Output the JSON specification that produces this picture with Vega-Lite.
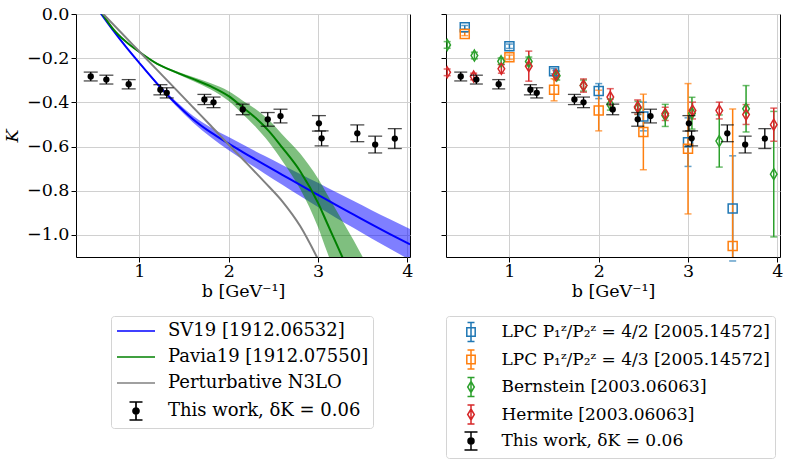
{
  "$schema": "https://vega.github.io/schema/vega-lite/v6.json",
  "background": "white",
  "padding": {"left": 3, "top": 4, "right": 2, "bottom": 2},
  "datasets": {
    "curves": [
      {"series": "SV19 [1912.06532]", "b": 0.56, "K": 0.007, "lo": 0.006, "hi": 0.008},
      {"series": "SV19 [1912.06532]", "b": 0.7, "K": -0.071, "lo": -0.072, "hi": -0.07},
      {"series": "SV19 [1912.06532]", "b": 0.85, "K": -0.149, "lo": -0.151, "hi": -0.147},
      {"series": "SV19 [1912.06532]", "b": 1.0, "K": -0.222, "lo": -0.225, "hi": -0.219},
      {"series": "SV19 [1912.06532]", "b": 1.2, "K": -0.316, "lo": -0.322, "hi": -0.31},
      {"series": "SV19 [1912.06532]", "b": 1.4, "K": -0.402, "lo": -0.412, "hi": -0.392},
      {"series": "SV19 [1912.06532]", "b": 1.6, "K": -0.476, "lo": -0.491, "hi": -0.461},
      {"series": "SV19 [1912.06532]", "b": 1.8, "K": -0.536, "lo": -0.558, "hi": -0.514},
      {"series": "SV19 [1912.06532]", "b": 2.0, "K": -0.587, "lo": -0.617, "hi": -0.557},
      {"series": "SV19 [1912.06532]", "b": 2.2, "K": -0.635, "lo": -0.67, "hi": -0.6},
      {"series": "SV19 [1912.06532]", "b": 2.4, "K": -0.682, "lo": -0.722, "hi": -0.642},
      {"series": "SV19 [1912.06532]", "b": 2.6, "K": -0.728, "lo": -0.773, "hi": -0.683},
      {"series": "SV19 [1912.06532]", "b": 2.8, "K": -0.774, "lo": -0.824, "hi": -0.724},
      {"series": "SV19 [1912.06532]", "b": 3.0, "K": -0.819, "lo": -0.874, "hi": -0.764},
      {"series": "SV19 [1912.06532]", "b": 3.2, "K": -0.864, "lo": -0.922, "hi": -0.806},
      {"series": "SV19 [1912.06532]", "b": 3.4, "K": -0.908, "lo": -0.969, "hi": -0.847},
      {"series": "SV19 [1912.06532]", "b": 3.6, "K": -0.952, "lo": -1.016, "hi": -0.888},
      {"series": "SV19 [1912.06532]", "b": 3.8, "K": -0.995, "lo": -1.062, "hi": -0.928},
      {"series": "SV19 [1912.06532]", "b": 4.03, "K": -1.043, "lo": -1.113, "hi": -0.973},
      {"series": "Pavia19 [1912.07550]", "b": 0.57, "K": 0.01, "lo": 0.01, "hi": 0.01},
      {"series": "Pavia19 [1912.07550]", "b": 0.7, "K": -0.065, "lo": -0.066, "hi": -0.064},
      {"series": "Pavia19 [1912.07550]", "b": 0.85, "K": -0.126, "lo": -0.128, "hi": -0.124},
      {"series": "Pavia19 [1912.07550]", "b": 1.0, "K": -0.172, "lo": -0.175, "hi": -0.169},
      {"series": "Pavia19 [1912.07550]", "b": 1.2, "K": -0.226, "lo": -0.23, "hi": -0.222},
      {"series": "Pavia19 [1912.07550]", "b": 1.4, "K": -0.262, "lo": -0.267, "hi": -0.257},
      {"series": "Pavia19 [1912.07550]", "b": 1.6, "K": -0.294, "lo": -0.303, "hi": -0.285},
      {"series": "Pavia19 [1912.07550]", "b": 1.8, "K": -0.328, "lo": -0.342, "hi": -0.314},
      {"series": "Pavia19 [1912.07550]", "b": 2.0, "K": -0.372, "lo": -0.394, "hi": -0.35},
      {"series": "Pavia19 [1912.07550]", "b": 2.15, "K": -0.42, "lo": -0.45, "hi": -0.39},
      {"series": "Pavia19 [1912.07550]", "b": 2.3, "K": -0.47, "lo": -0.51, "hi": -0.43},
      {"series": "Pavia19 [1912.07550]", "b": 2.45, "K": -0.53, "lo": -0.58, "hi": -0.48},
      {"series": "Pavia19 [1912.07550]", "b": 2.6, "K": -0.605, "lo": -0.665, "hi": -0.545},
      {"series": "Pavia19 [1912.07550]", "b": 2.8, "K": -0.712, "lo": -0.792, "hi": -0.632},
      {"series": "Pavia19 [1912.07550]", "b": 3.0, "K": -0.855, "lo": -0.965, "hi": -0.745},
      {"series": "Pavia19 [1912.07550]", "b": 3.1, "K": -0.945, "lo": -1.075, "hi": -0.815},
      {"series": "Pavia19 [1912.07550]", "b": 3.2, "K": -1.035, "lo": -1.185, "hi": -0.885},
      {"series": "Pavia19 [1912.07550]", "b": 3.3, "K": -1.125, "lo": -1.295, "hi": -0.955},
      {"series": "Pavia19 [1912.07550]", "b": 3.4, "K": -1.215, "lo": -1.405, "hi": -1.025},
      {"series": "Pavia19 [1912.07550]", "b": 3.5, "K": -1.3, "lo": -1.5, "hi": -1.1},
      {"series": "Perturbative N3LO", "b": 0.59, "K": 0.002},
      {"series": "Perturbative N3LO", "b": 0.8, "K": -0.086},
      {"series": "Perturbative N3LO", "b": 1.0, "K": -0.17},
      {"series": "Perturbative N3LO", "b": 1.2, "K": -0.254},
      {"series": "Perturbative N3LO", "b": 1.4, "K": -0.338},
      {"series": "Perturbative N3LO", "b": 1.6, "K": -0.422},
      {"series": "Perturbative N3LO", "b": 1.8, "K": -0.506},
      {"series": "Perturbative N3LO", "b": 2.0, "K": -0.592},
      {"series": "Perturbative N3LO", "b": 2.2, "K": -0.675},
      {"series": "Perturbative N3LO", "b": 2.4, "K": -0.76},
      {"series": "Perturbative N3LO", "b": 2.6, "K": -0.848},
      {"series": "Perturbative N3LO", "b": 2.8, "K": -0.96},
      {"series": "Perturbative N3LO", "b": 3.0, "K": -1.11}
    ],
    "work": [
      {"series": "This work, δK = 0.06", "b": 0.455, "K": -0.283, "err": 0.02},
      {"series": "This work, δK = 0.06", "b": 0.63, "K": -0.297, "err": 0.02},
      {"series": "This work, δK = 0.06", "b": 0.88, "K": -0.318, "err": 0.021},
      {"series": "This work, δK = 0.06", "b": 1.235, "K": -0.343, "err": 0.023},
      {"series": "This work, δK = 0.06", "b": 1.306, "K": -0.357, "err": 0.023},
      {"series": "This work, δK = 0.06", "b": 1.728, "K": -0.387, "err": 0.023},
      {"series": "This work, δK = 0.06", "b": 1.83, "K": -0.4, "err": 0.024},
      {"series": "This work, δK = 0.06", "b": 2.157, "K": -0.432, "err": 0.024},
      {"series": "This work, δK = 0.06", "b": 2.437, "K": -0.477, "err": 0.031},
      {"series": "This work, δK = 0.06", "b": 2.58, "K": -0.462, "err": 0.031},
      {"series": "This work, δK = 0.06", "b": 3.01, "K": -0.495, "err": 0.035},
      {"series": "This work, δK = 0.06", "b": 3.04, "K": -0.563, "err": 0.034},
      {"series": "This work, δK = 0.06", "b": 3.44, "K": -0.54, "err": 0.038},
      {"series": "This work, δK = 0.06", "b": 3.64, "K": -0.591, "err": 0.038},
      {"series": "This work, δK = 0.06", "b": 3.86, "K": -0.564, "err": 0.045}
    ],
    "lattice": [
      {"series": "LPC P₁ᶻ/P₂ᶻ = 4/2 [2005.14572]", "b": 0.5, "K": -0.06, "err": 0.008},
      {"series": "LPC P₁ᶻ/P₂ᶻ = 4/2 [2005.14572]", "b": 1.0, "K": -0.146, "err": 0.01},
      {"series": "LPC P₁ᶻ/P₂ᶻ = 4/2 [2005.14572]", "b": 1.5, "K": -0.259, "err": 0.012},
      {"series": "LPC P₁ᶻ/P₂ᶻ = 4/2 [2005.14572]", "b": 2.0, "K": -0.349, "err": 0.034},
      {"series": "LPC P₁ᶻ/P₂ᶻ = 4/2 [2005.14572]", "b": 2.5, "K": -0.464, "err": 0.065},
      {"series": "LPC P₁ᶻ/P₂ᶻ = 4/2 [2005.14572]", "b": 3.0, "K": -0.58, "err": 0.11},
      {"series": "LPC P₁ᶻ/P₂ᶻ = 4/2 [2005.14572]", "b": 3.5, "K": -0.88, "err": 0.238},
      {"series": "LPC P₁ᶻ/P₂ᶻ = 4/3 [2005.14572]", "b": 0.5, "K": -0.09, "err": 0.008},
      {"series": "LPC P₁ᶻ/P₂ᶻ = 4/3 [2005.14572]", "b": 1.0, "K": -0.196, "err": 0.01},
      {"series": "LPC P₁ᶻ/P₂ᶻ = 4/3 [2005.14572]", "b": 1.5, "K": -0.343, "err": 0.05},
      {"series": "LPC P₁ᶻ/P₂ᶻ = 4/3 [2005.14572]", "b": 2.0, "K": -0.437, "err": 0.092},
      {"series": "LPC P₁ᶻ/P₂ᶻ = 4/3 [2005.14572]", "b": 2.5, "K": -0.534, "err": 0.171},
      {"series": "LPC P₁ᶻ/P₂ᶻ = 4/3 [2005.14572]", "b": 3.0, "K": -0.61, "err": 0.295},
      {"series": "LPC P₁ᶻ/P₂ᶻ = 4/3 [2005.14572]", "b": 3.5, "K": -1.05, "err": 0.62},
      {"series": "Bernstein [2003.06063]", "b": 0.303, "K": -0.14, "err": 0.015},
      {"series": "Bernstein [2003.06063]", "b": 0.608, "K": -0.188, "err": 0.015},
      {"series": "Bernstein [2003.06063]", "b": 0.907, "K": -0.214, "err": 0.015},
      {"series": "Bernstein [2003.06063]", "b": 1.217, "K": -0.215, "err": 0.02},
      {"series": "Bernstein [2003.06063]", "b": 1.53, "K": -0.279, "err": 0.02},
      {"series": "Bernstein [2003.06063]", "b": 1.83, "K": -0.324, "err": 0.025},
      {"series": "Bernstein [2003.06063]", "b": 2.13, "K": -0.41, "err": 0.025},
      {"series": "Bernstein [2003.06063]", "b": 2.44, "K": -0.425, "err": 0.03},
      {"series": "Bernstein [2003.06063]", "b": 2.745, "K": -0.459, "err": 0.05},
      {"series": "Bernstein [2003.06063]", "b": 3.044, "K": -0.449, "err": 0.072},
      {"series": "Bernstein [2003.06063]", "b": 3.35, "K": -0.575, "err": 0.118},
      {"series": "Bernstein [2003.06063]", "b": 3.65, "K": -0.429, "err": 0.105},
      {"series": "Bernstein [2003.06063]", "b": 3.96, "K": -0.725, "err": 0.284},
      {"series": "Hermite [2003.06063]", "b": 0.303, "K": -0.264, "err": 0.015},
      {"series": "Hermite [2003.06063]", "b": 0.6, "K": -0.283, "err": 0.015},
      {"series": "Hermite [2003.06063]", "b": 0.91, "K": -0.248, "err": 0.02},
      {"series": "Hermite [2003.06063]", "b": 1.217, "K": -0.236, "err": 0.068},
      {"series": "Hermite [2003.06063]", "b": 1.52, "K": -0.276, "err": 0.02},
      {"series": "Hermite [2003.06063]", "b": 1.83, "K": -0.324, "err": 0.03},
      {"series": "Hermite [2003.06063]", "b": 2.13, "K": -0.376, "err": 0.038},
      {"series": "Hermite [2003.06063]", "b": 2.436, "K": -0.421, "err": 0.032},
      {"series": "Hermite [2003.06063]", "b": 2.745, "K": -0.452, "err": 0.03},
      {"series": "Hermite [2003.06063]", "b": 3.05, "K": -0.437, "err": 0.038},
      {"series": "Hermite [2003.06063]", "b": 3.35, "K": -0.437, "err": 0.038},
      {"series": "Hermite [2003.06063]", "b": 3.65, "K": -0.455, "err": 0.045},
      {"series": "Hermite [2003.06063]", "b": 3.96, "K": -0.501, "err": 0.075}
    ]
  },
  "hconcat": [
    {
      "width": 334,
      "height": 243,
      "layer": [
        {
          "data": {"name": "curves"},
          "transform": [{"filter": "datum.series == 'SV19 [1912.06532]'"}],
          "mark": {"type": "area", "color": "#0000ff", "opacity": 0.5, "clip": true, "interpolate": "monotone"},
          "encoding": {
            "x": {"field": "b", "type": "quantitative", "scale": {"domain": [0.29, 4.03], "nice": false, "zero": false}, "axis": {"values": [1, 2, 3, 4], "format": "d", "title": "b [GeV⁻¹]"}},
            "y": {"field": "lo", "type": "quantitative", "scale": {"domain": [-1.1, 0], "nice": false, "zero": false}, "axis": {"values": [0, -0.2, -0.4, -0.6, -0.8, -1.0], "format": ".1f", "title": "K", "titleFontStyle": "italic"}},
            "y2": {"field": "hi"}
          }
        },
        {
          "data": {"name": "curves"},
          "transform": [{"filter": "datum.series == 'Pavia19 [1912.07550]'"}],
          "mark": {"type": "area", "color": "#008000", "opacity": 0.5, "clip": true, "interpolate": "monotone"},
          "encoding": {
            "x": {"field": "b", "type": "quantitative", "scale": {"domain": [0.29, 4.03], "nice": false, "zero": false}},
            "y": {"field": "lo", "type": "quantitative", "scale": {"domain": [-1.1, 0], "nice": false, "zero": false}},
            "y2": {"field": "hi"}
          }
        },
        {
          "data": {"name": "curves"},
          "mark": {"type": "line", "clip": true, "strokeWidth": 2, "interpolate": "monotone"},
          "encoding": {
            "x": {"field": "b", "type": "quantitative", "scale": {"domain": [0.29, 4.03], "nice": false, "zero": false}},
            "y": {"field": "K", "type": "quantitative", "scale": {"domain": [-1.1, 0], "nice": false, "zero": false}},
            "color": {
              "field": "series",
              "type": "nominal",
              "scale": {"domain": ["Perturbative N3LO", "Pavia19 [1912.07550]", "SV19 [1912.06532]"], "range": ["#808080", "#008000", "#0000ff"]},
              "legend": null
            }
          }
        },
        {
          "data": {"name": "work"},
          "mark": {"type": "errorbar", "color": "#000000", "thickness": 1.3, "ticks": {"size": 14}},
          "encoding": {
            "x": {"field": "b", "type": "quantitative", "scale": {"domain": [0.29, 4.03], "nice": false, "zero": false}},
            "y": {"field": "K", "type": "quantitative", "scale": {"domain": [-1.1, 0], "nice": false, "zero": false}},
            "yError": {"field": "err"}
          }
        },
        {
          "data": {"name": "work"},
          "mark": {"type": "point", "filled": true, "color": "#000000", "size": 40, "opacity": 1, "clip": true},
          "encoding": {
            "x": {"field": "b", "type": "quantitative", "scale": {"domain": [0.29, 4.03], "nice": false, "zero": false}},
            "y": {"field": "K", "type": "quantitative", "scale": {"domain": [-1.1, 0], "nice": false, "zero": false}}
          }
        },
        {
          "data": {"name": "work"},
          "transform": [{"filter": "false"}],
          "mark": {"type": "point", "opacity": 1},
          "encoding": {
            "x": {"field": "b", "type": "quantitative", "scale": {"domain": [0.29, 4.03], "nice": false, "zero": false}},
            "y": {"field": "K", "type": "quantitative", "scale": {"domain": [-1.1, 0], "nice": false, "zero": false}},
            "stroke": {
              "field": "series", "type": "nominal",
              "scale": {"domain": ["SV19 [1912.06532]", "Pavia19 [1912.07550]", "Perturbative N3LO", "This work, δK = 0.06"], "range": ["#0000ff", "#008000", "#808080", "#000000"]},
              "legend": {"title": null, "orient": "none", "legendX": 35, "legendY": 302, "direction": "vertical", "padding": 4, "symbolOffset": 10, "symbolSize": 400, "symbolStrokeWidth": 1.7, "symbolOpacity": 1, "labelOffset": 21, "rowPadding": 6, "labelFont": "DejaVu Serif", "labelFontSize": 18, "labelColor": "black", "labelLimit": 400, "strokeColor": "#d4d4d4", "fillColor": "white", "cornerRadius": 3}
            },
            "fill": {
              "field": "series", "type": "nominal",
              "scale": {"domain": ["SV19 [1912.06532]", "Pavia19 [1912.07550]", "Perturbative N3LO", "This work, δK = 0.06"], "range": ["transparent", "transparent", "transparent", "#000000"]},
              "legend": {"title": null, "orient": "none", "legendX": 35, "legendY": 302, "direction": "vertical", "padding": 4, "symbolOffset": 10, "symbolSize": 400, "symbolStrokeWidth": 1.7, "symbolOpacity": 1, "labelOffset": 21, "rowPadding": 6, "labelFont": "DejaVu Serif", "labelFontSize": 18, "labelColor": "black", "labelLimit": 400, "strokeColor": "#d4d4d4", "fillColor": "white", "cornerRadius": 3}
            },
            "shape": {
              "field": "series", "type": "nominal",
              "scale": {"domain": ["SV19 [1912.06532]", "Pavia19 [1912.07550]", "Perturbative N3LO", "This work, δK = 0.06"], "range": ["M-1.9,0H1.9", "M-1.9,0H1.9", "M-1.9,0H1.9", "M0,-0.9V0.9M-0.65,-0.9H0.65M-0.65,0.9H0.65M-0.3,0A0.3,0.3,0,1,0,0.3,0A0.3,0.3,0,1,0,-0.3,0Z"]},
              "legend": {"title": null, "orient": "none", "legendX": 35, "legendY": 302, "direction": "vertical", "padding": 4, "symbolOffset": 10, "symbolSize": 400, "symbolStrokeWidth": 1.7, "symbolOpacity": 1, "labelOffset": 21, "rowPadding": 6, "labelFont": "DejaVu Serif", "labelFontSize": 18, "labelColor": "black", "labelLimit": 400, "strokeColor": "#d4d4d4", "fillColor": "white", "cornerRadius": 3}
            }
          }
        }
      ]
    },
    {
      "width": 334,
      "height": 243,
      "layer": [
        {
          "data": {"name": "lattice"},
          "mark": {"type": "errorbar", "thickness": 1.5, "ticks": {"size": 7}, "rule": {"clip": true}},
          "encoding": {
            "x": {"field": "b", "type": "quantitative", "scale": {"domain": [0.29, 4.03], "nice": false, "zero": false}, "axis": {"values": [1, 2, 3, 4], "format": "d", "title": "b [GeV⁻¹]"}},
            "y": {"field": "K", "type": "quantitative", "scale": {"domain": [-1.1, 0], "nice": false, "zero": false}, "axis": {"values": [0, -0.2, -0.4, -0.6, -0.8, -1.0], "labels": false, "title": null}},
            "yError": {"field": "err"},
            "color": {
              "field": "series", "type": "nominal",
              "scale": {"domain": ["Hermite [2003.06063]", "Bernstein [2003.06063]", "LPC P₁ᶻ/P₂ᶻ = 4/3 [2005.14572]", "LPC P₁ᶻ/P₂ᶻ = 4/2 [2005.14572]"], "range": ["#d62728", "#2ca02c", "#ff7f0e", "#1f77b4"]},
              "legend": null
            }
          }
        },
        {
          "data": {"name": "lattice"},
          "transform": [{"filter": "indexof(datum.series, 'LPC') == 0"}],
          "mark": {"type": "point", "shape": "square", "filled": false, "size": 81, "strokeWidth": 1.5, "opacity": 1, "clip": true},
          "encoding": {
            "x": {"field": "b", "type": "quantitative", "scale": {"domain": [0.29, 4.03], "nice": false, "zero": false}},
            "y": {"field": "K", "type": "quantitative", "scale": {"domain": [-1.1, 0], "nice": false, "zero": false}},
            "color": {
              "field": "series", "type": "nominal",
              "scale": {"domain": ["Hermite [2003.06063]", "Bernstein [2003.06063]", "LPC P₁ᶻ/P₂ᶻ = 4/3 [2005.14572]", "LPC P₁ᶻ/P₂ᶻ = 4/2 [2005.14572]"], "range": ["#d62728", "#2ca02c", "#ff7f0e", "#1f77b4"]},
              "legend": null
            }
          }
        },
        {
          "data": {"name": "lattice"},
          "transform": [{"filter": "indexof(datum.series, 'LPC') != 0"}],
          "mark": {"type": "point", "shape": "M0,-1L0.6,0L0,1L-0.6,0Z", "filled": false, "size": 121, "strokeWidth": 1.5, "opacity": 1, "clip": true},
          "encoding": {
            "x": {"field": "b", "type": "quantitative", "scale": {"domain": [0.29, 4.03], "nice": false, "zero": false}},
            "y": {"field": "K", "type": "quantitative", "scale": {"domain": [-1.1, 0], "nice": false, "zero": false}},
            "color": {
              "field": "series", "type": "nominal",
              "scale": {"domain": ["Hermite [2003.06063]", "Bernstein [2003.06063]", "LPC P₁ᶻ/P₂ᶻ = 4/3 [2005.14572]", "LPC P₁ᶻ/P₂ᶻ = 4/2 [2005.14572]"], "range": ["#d62728", "#2ca02c", "#ff7f0e", "#1f77b4"]},
              "legend": null
            }
          }
        },
        {
          "data": {"name": "work"},
          "mark": {"type": "errorbar", "color": "#000000", "thickness": 1.3, "ticks": {"size": 13}},
          "encoding": {
            "x": {"field": "b", "type": "quantitative", "scale": {"domain": [0.29, 4.03], "nice": false, "zero": false}},
            "y": {"field": "K", "type": "quantitative", "scale": {"domain": [-1.1, 0], "nice": false, "zero": false}},
            "yError": {"field": "err"}
          }
        },
        {
          "data": {"name": "work"},
          "mark": {"type": "point", "filled": true, "color": "#000000", "size": 40, "opacity": 1, "clip": true},
          "encoding": {
            "x": {"field": "b", "type": "quantitative", "scale": {"domain": [0.29, 4.03], "nice": false, "zero": false}},
            "y": {"field": "K", "type": "quantitative", "scale": {"domain": [-1.1, 0], "nice": false, "zero": false}}
          }
        },
        {
          "data": {"name": "work"},
          "transform": [{"filter": "false"}],
          "mark": {"type": "point", "opacity": 1},
          "encoding": {
            "x": {"field": "b", "type": "quantitative", "scale": {"domain": [0.29, 4.03], "nice": false, "zero": false}},
            "y": {"field": "K", "type": "quantitative", "scale": {"domain": [-1.1, 0], "nice": false, "zero": false}},
            "stroke": {
              "field": "series", "type": "nominal",
              "scale": {"domain": ["LPC P₁ᶻ/P₂ᶻ = 4/2 [2005.14572]", "LPC P₁ᶻ/P₂ᶻ = 4/3 [2005.14572]", "Bernstein [2003.06063]", "Hermite [2003.06063]", "This work, δK = 0.06"], "range": ["#1f77b4", "#ff7f0e", "#2ca02c", "#d62728", "#000000"]},
              "legend": {"title": null, "orient": "none", "legendX": 0, "legendY": 302, "direction": "vertical", "padding": 5, "symbolOffset": 9, "symbolSize": 400, "symbolStrokeWidth": 1.5, "symbolOpacity": 1, "labelOffset": 19.5, "rowPadding": 1.5, "labelFont": "DejaVu Serif", "labelFontSize": 17, "labelColor": "black", "labelLimit": 400, "strokeColor": "#d4d4d4", "fillColor": "white", "cornerRadius": 3}
            },
            "fill": {
              "field": "series", "type": "nominal",
              "scale": {"domain": ["LPC P₁ᶻ/P₂ᶻ = 4/2 [2005.14572]", "LPC P₁ᶻ/P₂ᶻ = 4/3 [2005.14572]", "Bernstein [2003.06063]", "Hermite [2003.06063]", "This work, δK = 0.06"], "range": ["transparent", "transparent", "transparent", "transparent", "#000000"]},
              "legend": {"title": null, "orient": "none", "legendX": 0, "legendY": 302, "direction": "vertical", "padding": 5, "symbolOffset": 9, "symbolSize": 400, "symbolStrokeWidth": 1.5, "symbolOpacity": 1, "labelOffset": 19.5, "rowPadding": 1.5, "labelFont": "DejaVu Serif", "labelFontSize": 17, "labelColor": "black", "labelLimit": 400, "strokeColor": "#d4d4d4", "fillColor": "white", "cornerRadius": 3}
            },
            "shape": {
              "field": "series", "type": "nominal",
              "scale": {"domain": ["LPC P₁ᶻ/P₂ᶻ = 4/2 [2005.14572]", "LPC P₁ᶻ/P₂ᶻ = 4/3 [2005.14572]", "Bernstein [2003.06063]", "Hermite [2003.06063]", "This work, δK = 0.06"], "range": ["M-0.42,-0.42H0.42V0.42H-0.42ZM0,-0.95V0.95M-0.35,-0.95H0.35M-0.35,0.95H0.35", "M-0.42,-0.42H0.42V0.42H-0.42ZM0,-0.95V0.95M-0.35,-0.95H0.35M-0.35,0.95H0.35", "M0,-0.55L0.33,0L0,0.55L-0.33,0ZM0,-0.95V0.95M-0.35,-0.95H0.35M-0.35,0.95H0.35", "M0,-0.55L0.33,0L0,0.55L-0.33,0ZM0,-0.95V0.95M-0.35,-0.95H0.35M-0.35,0.95H0.35", "M0,-0.9V0.9M-0.65,-0.9H0.65M-0.65,0.9H0.65M-0.3,0A0.3,0.3,0,1,0,0.3,0A0.3,0.3,0,1,0,-0.3,0Z"]},
              "legend": {"title": null, "orient": "none", "legendX": 0, "legendY": 302, "direction": "vertical", "padding": 5, "symbolOffset": 9, "symbolSize": 400, "symbolStrokeWidth": 1.5, "symbolOpacity": 1, "labelOffset": 19.5, "rowPadding": 1.5, "labelFont": "DejaVu Serif", "labelFontSize": 17, "labelColor": "black", "labelLimit": 400, "strokeColor": "#d4d4d4", "fillColor": "white", "cornerRadius": 3}
            }
          }
        }
      ]
    }
  ],
  "resolve": {
    "scale": {"color": "independent", "stroke": "independent", "fill": "independent", "shape": "independent"},
    "legend": {"color": "independent", "stroke": "independent", "fill": "independent", "shape": "independent"}
  },
  "config": {
    "font": "DejaVu Serif",
    "view": {"stroke": "black", "strokeWidth": 1},
    "concat": {"spacing": 26},
    "axis": {
      "labelFont": "DejaVu Serif",
      "labelFontSize": 17.5,
      "labelColor": "black",
      "titleFont": "DejaVu Serif",
      "titleFontSize": 17.5,
      "titleFontWeight": "normal",
      "titleColor": "black",
      "domain": false,
      "tickColor": "black",
      "tickSize": 5,
      "labelPadding": 2,
      "titlePadding": 3,
      "gridColor": "#d0d0d0",
      "gridWidth": 1
    },
    "axisX": {"labelPadding": 0},
    "axisY": {"titlePadding": 5, "titleFontStyle": "italic"}
  }
}
